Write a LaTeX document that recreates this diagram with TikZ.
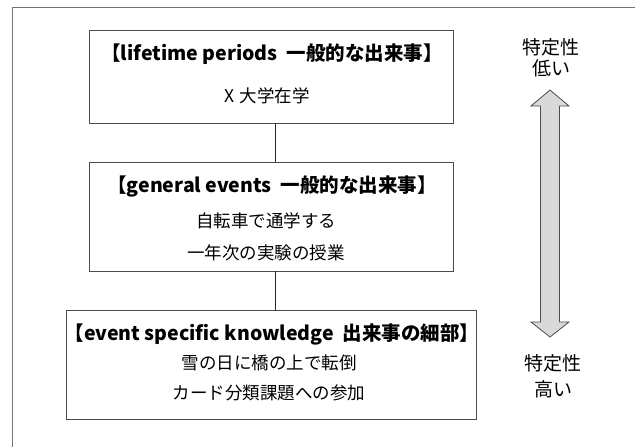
\documentclass[tikz,border=0pt]{standalone}
\usepackage{fontspec}
\setmainfont{Noto Sans CJK JP}
\begin{document}
\begin{tikzpicture}[x=1pt,y=-1pt,
  box/.style={draw=black!70, line width=0.9pt, fill=white},
  ttl/.style={font=\fontsize{19.5}{21}\selectfont\bfseries, anchor=center, inner sep=0pt},
  txt/.style={font=\fontsize{17.5}{19}\selectfont, anchor=center, inner sep=0pt},
  side/.style={font=\fontsize{19}{21}\selectfont, anchor=center, inner sep=0pt},
  conn/.style={draw=black!85, line width=0.7pt},
  frame/.style={draw=black!55, line width=1pt},
  bigarrow/.style={draw=black!70, line width=0.8pt, fill=black!15, line join=miter}]
\useasboundingbox (0,0) rectangle (635,447);
% outer frame (right and bottom edges lie outside the picture)
\draw[frame] (12,460) -- (12,7) -- (650,7);
% boxes
\path[box] (89,30) rectangle (453,123);
\path[box] (89,162) rectangle (453,271);
\path[box] (66,310) rectangle (476,419);
\coordinate (b1s) at (275,123);
\coordinate (b2n) at (275,162);
\coordinate (b2s) at (275,271);
\coordinate (b3n) at (275,310);
\draw[conn] (b1s) -- (b2n);
\draw[conn] (b2s) -- (b3n);
% texts
\node[ttl] (t1) at (272,54) {【lifetime periods\ \ 一般的な出来事】};
\node[txt] (t1a) at (267,96) {X\hspace{5pt}大学在学};
\node[ttl] (t2) at (272,186) {【general events\ \ 一般的な出来事】};
\node[txt] (t2a) at (266,221) {自転車で通学する};
\node[txt] (t2b) at (266,253) {一年次の実験の授業};
\node[ttl] (t3) at (272,334) {【event specific knowledge\ \ 出来事の細部】};
\node[txt] (t3a) at (269,363) {雪の日に橋の上で転倒};
\node[txt] (t3b) at (269,393) {カード分類課題への参加};
% right side labels
\node[side] (l1) at (551,47) {特定性};
\node[side] (l2) at (551,68) {低い};
\node[side] (h1) at (553,363) {特定性};
\node[side] (h2) at (553,389) {高い};
% double arrow
\path[bigarrow] (550,90) -- (569,106) -- (559.5,106) -- (559.5,322) -- (569,322)
  -- (550,337) -- (531,322) -- (540.5,322) -- (540.5,106) -- (531,106) -- cycle;
\end{tikzpicture}
\end{document}
